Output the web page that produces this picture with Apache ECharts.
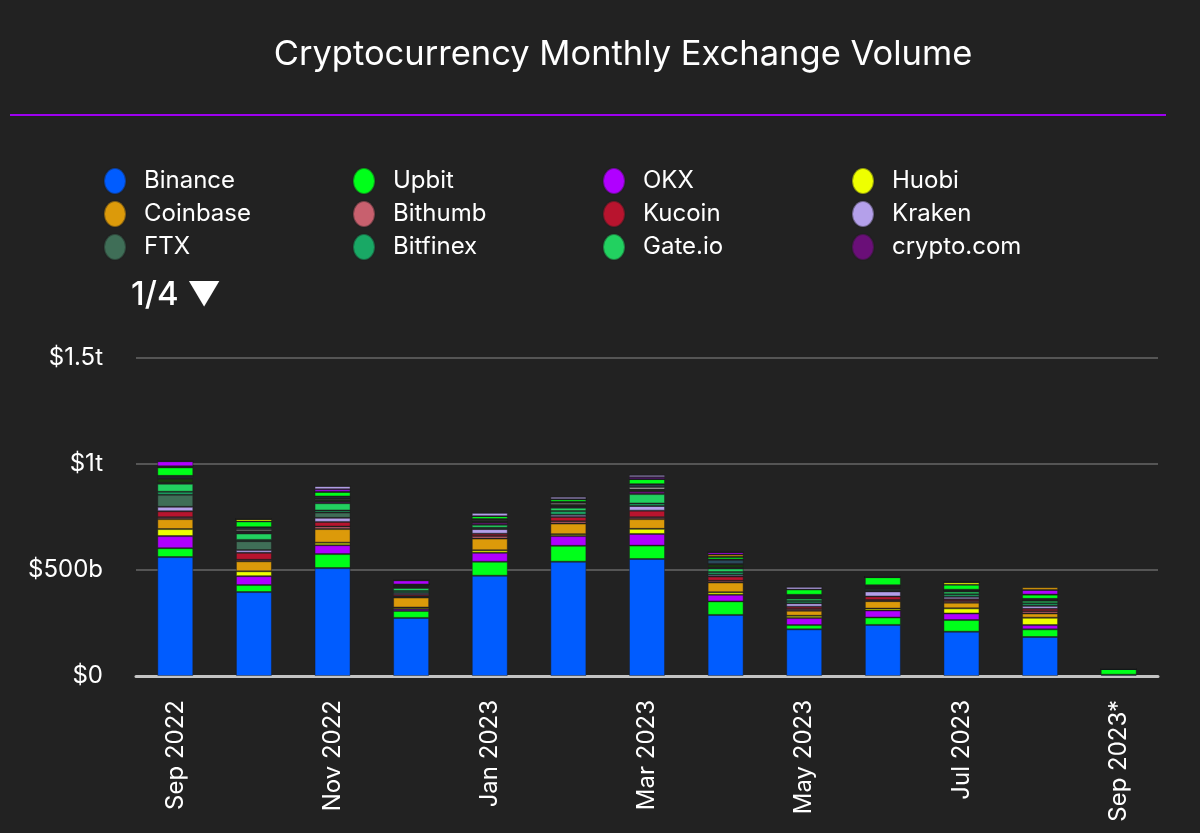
<!DOCTYPE html>
<html>
<head>
<meta charset="utf-8">
<script src="https://cdn.jsdelivr.net/npm/echarts@6/dist/echarts.min.js"></script>
<style>
html,body{margin:0;padding:0;background:#222222;}
#chart{width:1200px;height:833px;}
</style>
</head>
<body>
<div id="chart"></div>
<script>
// Monthly exchange volume, billions USD
const months = ['Sep 2022','Oct 2022','Nov 2022','Dec 2022','Jan 2023','Feb 2023','Mar 2023','Apr 2023','May 2023','Jun 2023','Jul 2023','Aug 2023','Sep 2023*'];
const yTicks = [0, 500, 1000, 1500];
const yTickLabels = ['$0', '$500b', '$1t', '$1.5t'];

const binance   = [561, 396, 509, 274, 473, 539, 552, 288, 220, 241, 209, 184, 6];
const upbit     = [42, 33, 66, 33, 66, 75, 63, 64, 20, 35, 55, 36, 28];
const okx       = [57, 42, 42, 9, 42, 46, 55, 31, 33, 33, 31, 20, 0];
const huobi     = [33, 23, 12, 7, 12, 9, 24, 12, 11, 9, 24, 35, 0];
const coinbase  = [47, 47, 64, 47, 55, 50, 46, 46, 24, 35, 27, 20, 0];
const bithumb   = [9, 7, 12, 5, 12, 11, 9, 8, 8, 6, 8, 11, 0];
const kucoin    = [28, 33, 22, 8, 11, 20, 31, 20, 11, 16, 8, 11, 0];
const kraken    = [21, 13, 19, 9, 22, 11, 22, 9, 16, 24, 12, 14, 0];
const ftx       = [57, 42, 25, 0, 0, 0, 0, 0, 0, 0, 0, 0, 0];
const bitfinex  = [14, 6, 10, 9, 6, 17, 12, 12, 11, 5, 12, 12, 0];
const gateio    = [38, 30, 34, 14, 14, 16, 44, 17, 11, 6, 12, 12, 0];
const cryptocom = [5, 6, 8, 5, 11, 6, 14, 5, 6, 5, 3, 3, 0];
const other1    = [19, 5, 8, 4, 6, 8, 8, 14, 5, 6, 2, 2, 0];
const other2    = [3, 9, 6, 2, 6, 9, 12, 2, 3, 3, 2, 2, 0];
const other3    = [8, 8, 8, 5, 3, 3, 11, 20, 3, 3, 1, 1, 0];
const other4    = [2, 2, 2, 1, 1, 2, 2, 2, 1, 1, 1, 1, 0];
const other5    = [40, 27, 22, 0, 14, 12, 24, 12, 25, 38, 24, 20, 0];
const other6    = [5, 0, 0, 0, 0, 0, 0, 0, 0, 0, 0, 0, 0];
const other7    = [0, 12, 0, 0, 0, 0, 0, 0, 0, 0, 12, 0, 0];
const other8    = [0, 0, 0, 0, 0, 0, 0, 11, 0, 0, 0, 0, 0];
const other9    = [24, 0, 12, 19, 0, 0, 9, 11, 0, 0, 0, 22, 0];
const other10   = [0, 0, 15, 0, 16, 12, 11, 0, 13, 0, 0, 0, 0];
const other11   = [0, 0, 0, 0, 0, 0, 0, 0, 0, 0, 0, 13, 0];

const seriesNames = ['Binance','Upbit','OKX','Huobi','Coinbase','Bithumb','Kucoin','Kraken','FTX','Bitfinex','Gate.io','crypto.com',
  'Other 1','Other 2','Other 3','Other 4','Other 5','Other 6','Other 7','Other 8','Other 9','Other 10','Other 11'];
const seriesData = [binance, upbit, okx, huobi, coinbase, bithumb, kucoin, kraken, ftx, bitfinex, gateio, cryptocom,
  other1, other2, other3, other4, other5, other6, other7, other8, other9, other10, other11];
const seriesColors = ['#005cff','#00ff1a','#b000ff','#eeff00','#dc9a0a','#c8606e','#b8142e','#b4a0ea','#3f6e57','#19a865','#22d160','#6a0f78',
  '#163d0c','#b0b0b0','#2a4a5c','#0a50e8','#00ff1a','#b8142e','#eeff00','#dc9a0a','#b000ff','#b4a0ea','#dc9a0a'];

const legendColumns = [
  ['Binance','Coinbase','FTX'],
  ['Upbit','Bithumb','Bitfinex'],
  ['OKX','Kucoin','Gate.io'],
  ['Huobi','Kraken','crypto.com']
];
const legendLefts = [103, 352, 602, 851];

const FONT = 'Inter, "Noto Sans", sans-serif';
const ellipse = 'path://M11,0 C17,0 22,6 22,13 C22,20 17,26 11,26 C5,26 0,20 0,13 C0,6 5,0 11,0 Z';

const chart = echarts.init(document.getElementById('chart'), null, {renderer: 'canvas'});

const series = seriesNames.map((name, i) => ({
  name: name,
  type: 'bar',
  stack: 'total',
  barWidth: 36,
  data: seriesData[i],
  itemStyle: { color: seriesColors[i], borderColor: 'rgba(30,30,30,0.45)', borderWidth: 1 },
  emphasis: { disabled: true }
}));

const legends = legendColumns.map((col, i) => ({
  orient: 'vertical',
  left: legendLefts[i],
  top: 167,
  padding: 0,
  itemGap: 5,
  itemWidth: 22,
  itemHeight: 26,
  icon: ellipse,
  data: col,
  textStyle: { color: '#ffffff', fontSize: 24, fontFamily: FONT, lineHeight: 27, padding: [0, 0, 0, 13] }
}));

chart.setOption({
  backgroundColor: '#222222',
  animation: false,
  title: {
    text: 'Cryptocurrency Monthly Exchange Volume',
    left: 623,
    top: 35,
    padding: 0,
    textAlign: 'center',
    textStyle: { color: '#ffffff', fontSize: 34.5, fontWeight: 'normal', fontFamily: FONT, lineHeight: 40 }
  },
  legend: legends,
  graphic: [
    { type: 'line', shape: { x1: 10, y1: 115, x2: 1166, y2: 115 }, style: { stroke: '#9d00f0', lineWidth: 2 } },
    { type: 'text', left: 131, top: 279, style: { text: '1/4 ▼', fill: '#ffffff', font: '500 33px ' + FONT } }
  ],
  grid: { left: 136, right: 42, top: 358, bottom: 157, containLabel: false },
  xAxis: {
    type: 'category',
    data: months,
    axisLine: { show: true, lineStyle: { color: '#c4c4c4', width: 3 } },
    axisTick: { show: false },
    axisLabel: { rotate: 90, interval: 1, color: '#ffffff', fontSize: 24, fontFamily: FONT, margin: 24 }
  },
  yAxis: {
    type: 'value',
    min: 0,
    max: 1500,
    interval: 500,
    axisLine: { show: false },
    axisTick: { show: false },
    splitLine: { lineStyle: { color: '#555555', width: 2 } },
    axisLabel: {
      color: '#ffffff', fontSize: 24, fontFamily: FONT, margin: 33,
      formatter: v => yTickLabels[yTicks.indexOf(v)]
    }
  },
  series: series
});
</script>
</body>
</html>
